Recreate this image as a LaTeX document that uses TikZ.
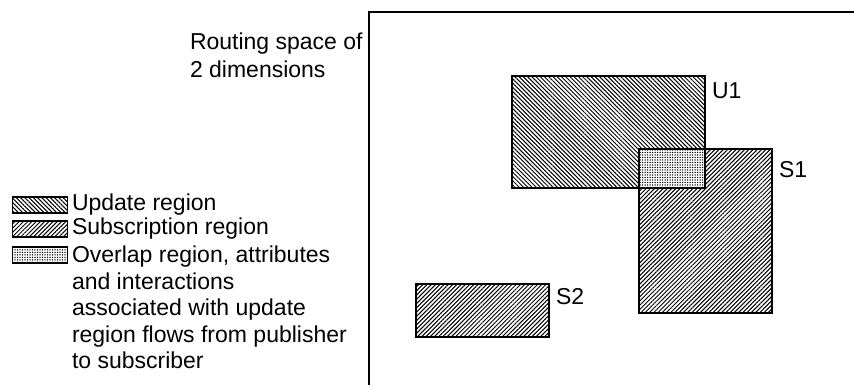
\documentclass[tikz,border=0pt]{standalone}
\usepackage{fontspec}
\setmainfont{Liberation Sans}
\usetikzlibrary{patterns,patterns.meta}
\begin{document}
\begin{tikzpicture}[x=1pt,y=-1pt,
  region/.style={draw, line width=1.6pt, inner sep=0pt, outer sep=0pt},
  outline/.style={line width=1.6pt},
  upd/.style={preaction={fill=white}, pattern={Lines[angle=-45,distance=3pt,line width=1pt]}},
  sub/.style={preaction={fill=white}, pattern={Lines[angle=45,distance=3pt,line width=1pt]}},
  ovl/.style={preaction={fill=white}, pattern={Dots[distance=2.5pt,radius=0.75pt]}},
  txt/.style={inner sep=0pt, outer sep=0pt, font=\fontsize{23}{26.5}\selectfont},
  legbox/.style={region, line width=1.4pt, minimum width=55pt, minimum height=16pt}]
\useasboundingbox (0,0) rectangle (854,385);
% frame
\coordinate (frameTR) at (856,12);
\coordinate (frameBL) at (369,387);
\draw[line width=1.8pt] (frameTR) -| (frameBL);
% title
\node[txt, anchor=north west, align=left, font=\fontsize{23}{28}\selectfont] (title) at (190,33) {Routing space of\\2 dimensions};
% regions
\node[region, sub, minimum width=133pt, minimum height=164pt] (S1) at (705.5,231) {};
\node[region, upd, minimum width=193pt, minimum height=112pt] (U1) at (608.5,132) {};
\node[region, sub, minimum width=133pt, minimum height=53pt] (S2) at (482.5,310.5) {};
\path[ovl] (S1.north west) rectangle (U1.south east);
\draw[outline] (S1.north west) rectangle (S1.south east);
\draw[outline] (U1.north west) rectangle (U1.south east);
% labels
\node[txt, anchor=west] (lU1) at (712,91) {U1};
\node[txt, anchor=west] (lS1) at (779,170) {S1};
\node[txt, anchor=west] (lS2) at (556,297) {S2};
% legend
\node[legbox, upd] (k1) at (40,205) {};
\node[legbox, sub] (k2) at (40,229) {};
\node[legbox, ovl] (k3) at (40,255) {};
\node[txt, anchor=west] (t1) at (72,205) {Update region};
\node[txt, anchor=west] (t2) at (72,229) {Subscription region};
\node[txt, anchor=north west, align=left] (t3) at (72,246) {Overlap region, attributes\\and interactions\\associated with update\\region flows from publisher\\to subscriber};
\end{tikzpicture}
\end{document}
